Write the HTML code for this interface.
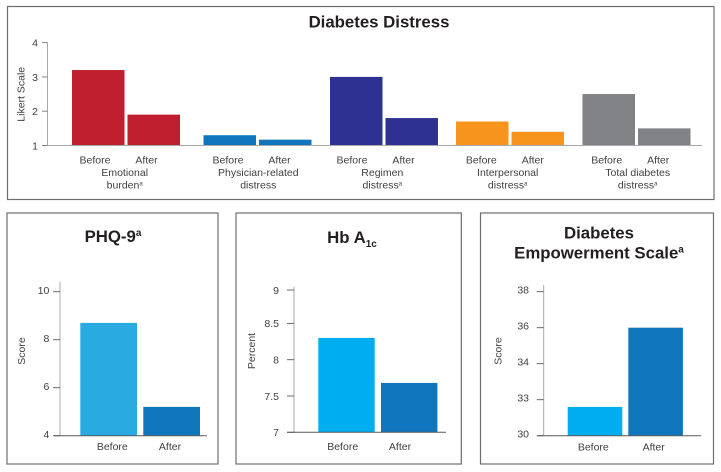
<!DOCTYPE html>
<html lang="en">
<head>
<meta charset="utf-8">
<title>Diabetes outcomes before and after</title>
<style>
html,body{margin:0;padding:0;background:#fff;width:721px;height:472px;overflow:hidden}
svg{display:block;font-family:"Liberation Sans",sans-serif}
.lbl{font-size:10.5px;fill:#414042}
.ttl{font-size:16.8px;font-weight:bold;fill:#231f20;text-anchor:middle}
.frame{fill:#fff;stroke:#6d6e71;stroke-width:1.2}
</style>
</head>
<body>
<svg id="chart" width="721" height="472" viewBox="0 0 721 472" xmlns="http://www.w3.org/2000/svg">
  <rect class="frame" x="7.5" y="6.5" width="706.5" height="193"/>
  <rect class="frame" x="7" y="213" width="211" height="251"/>
  <rect class="frame" x="236" y="213" width="225.3" height="251"/>
  <rect class="frame" x="480.5" y="213" width="233" height="251"/>
  <text class="ttl" x="379" y="27.5">Diabetes Distress</text>
  <text class="ttl" x="113" y="242">PHQ-9<tspan font-size="10" dy="-6">a</tspan></text>
  <text class="ttl" x="352" y="243">Hb A<tspan font-size="10" dy="4">1c</tspan></text>
  <text class="ttl" x="599" y="238.5">Diabetes</text>
  <text class="ttl" x="599" y="258.5">Empowerment Scale<tspan font-size="10" dy="-6">a</tspan></text>
</svg>
<script>
// ---- Data ----
const periods = ["Before", "After"];

const distressCategories = [["Emotional", "burden"], ["Physician-related", "distress"], ["Regimen", "distress"], ["Interpersonal", "distress"], ["Total diabetes", "distress"]];
const distressFootnoted = [true, false, true, true, true];
const distressBefore = [3.2, 1.3, 3.0, 1.7, 2.5];
const distressAfter = [1.9, 1.17, 1.8, 1.4, 1.5];
const distressColors = ["#be1e2d", "#0f75bc", "#2e3192", "#f7941d", "#808285"];
const distressTicks = [1, 2, 3, 4];
const distressTickLabels = ["1", "2", "3", "4"];

const phqValues = [8.7, 5.2];
const phqTicks = [4, 6, 8, 10];
const phqTickLabels = ["4", "6", "8", "10"];

const hbValues = [8.3, 7.68];
const hbTicks = [7, 7.5, 8, 8.5, 8.96];
const hbTickLabels = ["7", "7.5", "8", "8.5", "9"];

const empValues = [31.6, 36];
const empTicks = [30, 32, 34, 36, 38];
const empTickLabels = ["30", "33", "34", "36", "38"];

// ---- Helpers ----
const svg = document.getElementById('chart');
const NS = 'http://www.w3.org/2000/svg';
function line(x1, y1, x2, y2, color, width) {
  const el = document.createElementNS(NS, 'line');
  el.setAttribute('x1', x1);
  el.setAttribute('y1', y1);
  el.setAttribute('x2', x2);
  el.setAttribute('y2', y2);
  el.setAttribute('stroke', color);
  el.setAttribute('stroke-width', width);
  svg.appendChild(el);
  return el;
}
function text(str, x, y, anchor) {
  const el = document.createElementNS(NS, 'text');
  el.setAttribute('class', 'lbl');
  el.setAttribute('x', x);
  el.setAttribute('y', y);
  el.setAttribute('text-anchor', anchor);
  el.textContent = str;
  svg.appendChild(el);
  return el;
}
function rect(x, top, w, bottom, color) {
  const el = document.createElementNS(NS, 'rect');
  el.setAttribute('x', x);
  el.setAttribute('y', top);
  el.setAttribute('width', w);
  el.setAttribute('height', Math.max(0, bottom - top));
  el.setAttribute('fill', color);
  svg.appendChild(el);
  return el;
}
function supA(parent) {
  const s = document.createElementNS(NS, 'tspan');
  s.setAttribute('font-size', '6');
  s.setAttribute('dy', '-3');
  s.textContent = 'a';
  parent.appendChild(s);
}

// ---- Top chart ----
const topY = v => 145.5 - (v - 1) * 34.3;
const groupLeft = i => [72, 203.5, 330, 456, 582.5][i];
const beforeLabelX = i => [95, 228, 352, 481.3, 606.7][i];
const categoryX = i => [124.7, 258.3, 382.3, 507.7, 637.7][i];

distressCategories.forEach((lines, i) => {
  const b = rect(groupLeft(i), topY(distressBefore[i]), 52.5, topY(1), distressColors[i]);
  
  
  const a = rect(groupLeft(i) + 55.5, topY(distressAfter[i]), 52.5, topY(1), distressColors[i]);
  
  
  const t1 = text(periods[0], beforeLabelX(i), 163.7, 'middle');
  
  
  const t2 = text(periods[1], beforeLabelX(i) + 51.5, 163.7, 'middle');
  
  
  const c1 = text(lines[0], categoryX(i), 176, 'middle');
  
  
  const c2 = text(lines[1], categoryX(i), 188.3, 'middle');
  
  
  if (distressFootnoted[i]) supA(c2);
});
const topAxis = line(47.5, topY(4), 47.5, topY(1), '#a7a9ac', 1);


const topBase = line(42, topY(1), 702, topY(1), '#a7a9ac', 1);


distressTicks.forEach((v, i) => {
  const tick = line(42, topY(v), 47.5, topY(v), '#808285', 1);
  
  
  const lab = text(distressTickLabels[i], 38, topY(v) + 4, 'end');
  
  
});
const topTitle = text('Likert Scale', 0, 0, 'middle');
topTitle.setAttribute('transform', 'translate(24.5 94.3) rotate(-90)');



// ---- Small charts ----
function small(p, values, ticks, tickLabels, y) {
  p.colors.forEach((color, i) => {
    const b = rect(p.barX(i), y(values[i]), p.barW, y(ticks[0]), color);
    
    
    const t = text(periods[i], p.labelX(i), p.labelY, 'middle');
    
    
  });
  const ax = line(p.axisX, p.axisTop, p.axisX, y(ticks[0]), '#a7a9ac', 1);
  
  
  const base = line(p.baseL, y(ticks[0]), p.baseR, y(ticks[0]), '#58595b', 1);
  
  
  ticks.forEach((v, i) => {
    const tick = line(p.axisX - 7, y(v), p.axisX, y(v), '#58595b', 0.9);
    
    
    const lab = text(tickLabels[i], p.tickRight, y(v) + p.tickDrop, 'end');
    
    
  });
  const ttl = text(p.yTitle, 0, 0, 'middle');
  ttl.setAttribute('transform', 'translate(' + p.yTitleX + ' 351) rotate(-90)');
  
  
}
small({
  name: 'phq9', colors: ['#29abe2', '#0f75bc'], barX: i => 80.3 + i * 63, barW: 56.7,
  labelX: i => 112.3 + i * 57.7, labelY: 450, axisX: 60, axisTop: 281.7, baseL: 54, baseR: 207,
  tickRight: 49.3, tickDrop: 2.4, yTitle: 'Score', yTitleX: 25
}, phqValues, phqTicks, phqTickLabels, v => 435.7 - (v - 4) * 24);
small({
  name: 'hba1c', colors: ['#00aeef', '#0f75bc'], barX: i => 318.3 + i * 62.7, barW: 56.4,
  labelX: i => 342.7 + i * 57.3, labelY: 450, axisX: 294, axisTop: 286.7, baseL: 287, baseR: 446,
  tickRight: 279, tickDrop: 3.8, yTitle: 'Percent', yTitleX: 255
}, hbValues, hbTicks, hbTickLabels, v => 432.3 - (v - 7) * 72.6);
small({
  name: 'empowerment', colors: ['#00aeef', '#0f75bc'], barX: i => 567.7 + i * 60.6, barW: 54.6,
  labelX: i => 593.3 + i * 60.4, labelY: 450.5, axisX: 543.7, axisTop: 285, baseL: 537, baseR: 701,
  tickRight: 529, tickDrop: 1.8, yTitle: 'Score', yTitleX: 501.7
}, empValues, empTicks, empTickLabels, v => 435.7 - (v - 30) * 18);
</script>
</body>
</html>
